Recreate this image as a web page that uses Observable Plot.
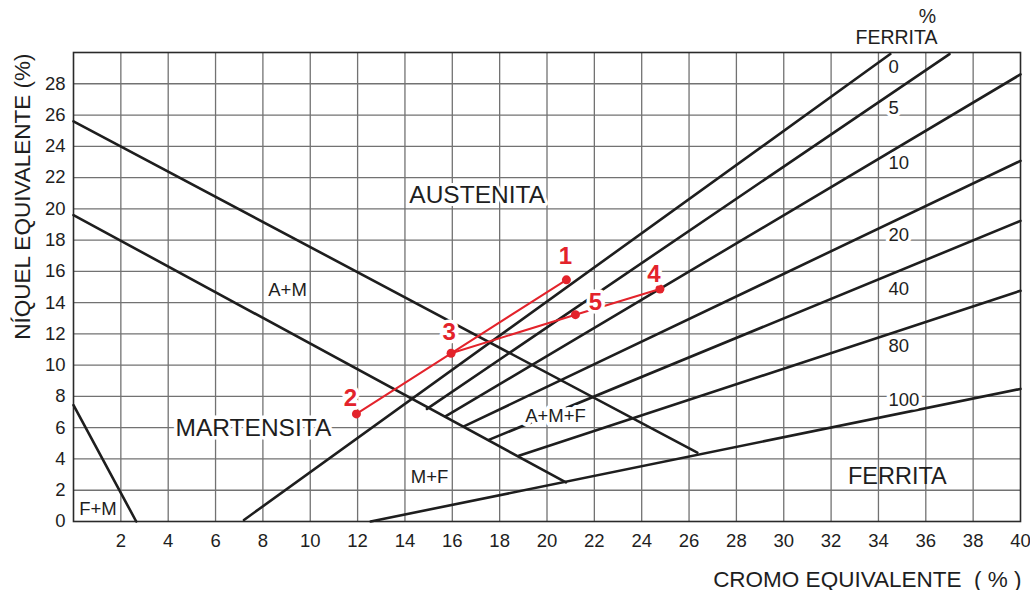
<!DOCTYPE html>
<html>
<head>
<meta charset="utf-8">
<script src="https://cdn.jsdelivr.net/npm/d3@7"></script>
<script src="https://cdn.jsdelivr.net/npm/@observablehq/plot@0.6"></script>
<style>
  body { margin: 0; background: #fff; }
</style>
</head>
<body>
<div id="chart"></div>
<script>
// ---- Axis ticks / grid ----
const xTickLabels = [2, 4, 6, 8, 10, 12, 14, 16, 18, 20, 22, 24, 26, 28, 30, 32, 34, 36, 38, 40];
const yTickLabels = [0, 2, 4, 6, 8, 10, 12, 14, 16, 18, 20, 22, 24, 26, 28];
const xGridValues = [2, 4, 6, 8, 10, 12, 14, 16, 18, 20, 22, 24, 26, 28, 30, 32, 34, 36, 38];
const yGridValues = [2, 4, 6, 8, 10, 12, 14, 16, 18, 20, 22, 24, 26, 28];

// ---- Phase boundary lines (Cr eq, Ni eq endpoints) ----
const boundaryIds   = ["austenita", "martensita", "f+m"];
const boundaryStart = [[0, 25.6], [0, 19.6], [0, 7.45]];
const boundaryEnd   = [[26.35, 4.4], [20.8, 2.5], [2.65, 0]];

// ---- Iso-ferrite lines ----
const ferriteLevels = ["0", "5", "10", "20", "40", "80", "100"];
const ferriteStart  = [[7.2, 0.1], [14.93, 7.2], [15.71, 6.72], [16.49, 6.08], [17.54, 5.22], [18.81, 4.2], [12.55, 0]];
const ferriteEnd    = [[34.5, 29.9], [37.0, 29.9], [40, 28.6], [40, 23.07], [40, 19.23], [40, 14.76], [40, 8.48]];
const ferriteLabelCr = [34.42, 34.42, 34.42, 34.42, 34.42, 34.42, 34.42];
const ferriteLabelNi = [29.07, 26.45, 22.9, 18.35, 14.87, 11.25, 7.75];

// ---- Region labels ----
const regionNames = ["AUSTENITA", "A+M", "MARTENSITA", "M+F", "A+M+F", "F+M", "FERRITA"];
const regionCr    = [17.05, 9.04, 7.6, 15.04, 20.36, 1.03, 34.8];
const regionNi    = [20.9, 14.79, 5.94, 2.84, 6.74, 0.8, 2.88];

// ---- Welding samples (red) ----
const sampleIds = ["1", "2", "3", "4", "5"];
const sampleCr  = [20.82, 11.95, 15.95, 24.77, 21.2];
const sampleNi  = [15.46, 6.88, 10.76, 14.87, 13.23];
const samplePaths = [["2", "3", "1"], ["3", "5", "4"]];

// ---- Build tables ----
const boundarySegs = [];
boundaryIds.forEach((id, i) => {
  boundarySegs.push({id, cr: boundaryStart[i][0], ni: boundaryStart[i][1]});
  boundarySegs.push({id, cr: boundaryEnd[i][0], ni: boundaryEnd[i][1]});
});
ferriteLevels.forEach((lv, i) => {
  boundarySegs.push({id: "fe" + lv, cr: ferriteStart[i][0], ni: ferriteStart[i][1]});
  boundarySegs.push({id: "fe" + lv, cr: ferriteEnd[i][0], ni: ferriteEnd[i][1]});
});
const ferriteLabels = ferriteLevels.map((t, i) => ({t, cr: ferriteLabelCr[i], ni: ferriteLabelNi[i]}));
const regions = regionNames.map((t, i) => ({t, cr: regionCr[i], ni: regionNi[i]}));
const samples = sampleIds.map((id, i) => ({id, cr: sampleCr[i], ni: sampleNi[i]}));
const sampleById = Object.fromEntries(samples.map(d => [d.id, d]));
const pathRows = [];
samplePaths.forEach((p, k) => p.forEach(id => pathRows.push({path: k, ...sampleById[id]})));

// label offsets (style)
const labelOffset = {"1": [-1, -23], "2": [-6, -16], "3": [-2, -21], "4": [-6, -15], "5": [20, -12]};
const RED = "#e3232b";
const INK = "#1e1e1e";
const FONT = "'Liberation Sans', Arial, Helvetica, sans-serif";

const regionSize = {"AUSTENITA": 24.5, "MARTENSITA": 24.5, "FERRITA": 23.5, "A+M": 18.5, "M+F": 18.5, "A+M+F": 18.5, "F+M": 18.5};
const regionHalo = {"AUSTENITA": 6, "MARTENSITA": 7, "FERRITA": 0, "A+M": 0, "M+F": 0, "A+M+F": 8, "F+M": 0};

const marks = [
  Plot.gridX(xGridValues, {stroke: "#727272", strokeOpacity: 1, strokeWidth: 1.3}),
  Plot.gridY(yGridValues, {stroke: "#727272", strokeOpacity: 1, strokeWidth: 1.3}),
  Plot.frame({stroke: "#2a2a2a", strokeWidth: 1.6}),
  Plot.axisX(xTickLabels, {tickSize: 0, tickPadding: 12, fontSize: 18.5, fill: INK, label: null}),
  Plot.axisY(yTickLabels, {tickSize: 0, tickPadding: 8, fontSize: 18.5, fill: INK, label: null}),
  Plot.line(boundarySegs, {x: "cr", y: "ni", z: "id", stroke: INK, strokeWidth: 2.6}),
  Plot.text(ferriteLabels, {x: "cr", y: "ni", text: "t", textAnchor: "start", fontSize: 18.5, fill: INK,
    stroke: "white", strokeWidth: 7}),
  ...regions.map(r => Plot.text([r], {x: "cr", y: "ni", text: "t", fontSize: regionSize[r.t], fill: INK,
    stroke: regionHalo[r.t] ? "white" : null, strokeWidth: regionHalo[r.t]})),
  Plot.line(pathRows, {x: "cr", y: "ni", z: "path", stroke: RED, strokeWidth: 2}),
  Plot.dot(samples, {x: "cr", y: "ni", r: 4.5, fill: RED}),
  ...samples.map(s => Plot.text([s], {x: "cr", y: "ni", text: "id", fill: RED, fontWeight: "bold", fontSize: 24,
    stroke: "white", strokeWidth: 7, dx: labelOffset[s.id][0], dy: labelOffset[s.id][1]})),
  // header for ferrite scale
  Plot.text(["FERRITA"], {frameAnchor: "top-right", text: d => d, lineAnchor: "middle", dx: -83, dy: -15, fontSize: 19.5, fill: INK}),
  Plot.text(["%"], {frameAnchor: "top-right", text: d => d, lineAnchor: "middle", textAnchor: "middle", dx: -93, dy: -36, fontSize: 19.5, fill: INK}),
  // axis titles
  Plot.text(["NÍQUEL EQUIVALENTE (%)"], {frameAnchor: "top-left", text: d => d, rotate: -90, textAnchor: "end",
    lineAnchor: "middle", dx: -51, dy: 1, fontSize: 22.5, fill: INK}),
  Plot.text(["CROMO EQUIVALENTE  ( % )"], {frameAnchor: "bottom-right", text: d => d, textAnchor: "end",
    lineAnchor: "middle", dy: 58, dx: 1, fontSize: 22.5, fill: INK})
];

const chart = Plot.plot({
  width: 1030,
  height: 590,
  marginLeft: 73,
  marginRight: 10,
  marginTop: 52,
  marginBottom: 69,
  x: {domain: [0, 40]},
  y: {domain: [0, 30]},
  style: {fontFamily: FONT, background: "white", color: INK, overflow: "visible"},
  marks
});
document.getElementById("chart").appendChild(chart);
</script>
</body>
</html>
